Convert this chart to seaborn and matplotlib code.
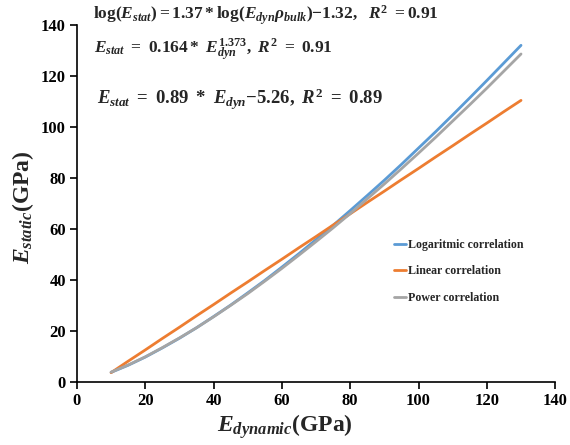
import matplotlib
matplotlib.use("Agg")
import matplotlib.pyplot as plt
import seaborn as sns
import pandas as pd

x_dyn = [10, 15, 20, 25, 30, 35, 40, 45, 50, 55, 60, 65, 70, 75, 80, 85, 90, 95,
         100, 105, 110, 115, 120, 125, 130]
log_corr = [3.7, 6.5, 9.7, 13.3, 17.1, 21.2, 25.6, 30.1, 34.9, 39.8, 45.0, 50.3,
            55.8, 61.4, 67.2, 73.1, 79.1, 85.3, 91.7, 98.1, 104.7, 111.4, 118.2,
            125.1, 132.0]
lin_corr = [3.6, 8.1, 12.5, 17.0, 21.4, 25.9, 30.3, 34.8, 39.2, 43.7, 48.1, 52.6,
            57.0, 61.5, 65.9, 70.4, 74.8, 79.3, 83.7, 88.2, 92.6, 97.1, 101.5,
            106.0, 110.4]
pow_corr = [3.8, 6.6, 9.8, 13.4, 17.2, 21.2, 25.5, 30.0, 34.6, 39.5, 44.5, 49.7,
            55.0, 60.4, 66.0, 71.8, 77.6, 83.6, 89.7, 95.9, 102.3, 108.7, 115.2,
            121.9, 128.6]
series_names = ["Logaritmic correlation", "Linear correlation", "Power correlation"]
colors = ["#5B9BD5", "#ED7D31", "#A5A5A5"]
x_ticks = [0, 20, 40, 60, 80, 100, 120, 140]
y_ticks = [0, 20, 40, 60, 80, 100, 120, 140]

sns.set_theme(style="white")
plt.rcParams["font.family"] = ["Liberation Serif", "DejaVu Serif"]
plt.rcParams["font.weight"] = "bold"
plt.rcParams["mathtext.fontset"] = "custom"
plt.rcParams["mathtext.rm"] = "Liberation Serif:bold"
plt.rcParams["mathtext.it"] = "Liberation Serif:italic:bold"
plt.rcParams["mathtext.bf"] = "Liberation Serif:bold"

rows = []
for name, vals in zip(series_names, [log_corr, lin_corr, pow_corr]):
    for xv, yv in zip(x_dyn, vals):
        rows.append({"x": xv, "y": yv, "series": name})
df = pd.DataFrame(rows)

fig = plt.figure(figsize=(5.7, 4.45), dpi=100)
ax = fig.add_axes([0.135, 0.142, 0.839, 0.802])
sns.lineplot(data=df, x="x", y="y", hue="series", hue_order=series_names,
             palette=colors, linewidth=2.0, ax=ax)

ax.set_xlim(0, 140)
ax.set_ylim(0, 140)
ax.set_xticks(x_ticks)
ax.set_yticks(y_ticks)
ax.tick_params(axis="both", which="both", direction="out", length=5, width=1.2,
               colors="black", labelsize=12, bottom=True, left=True, pad=3)
for lab in ax.get_xticklabels() + ax.get_yticklabels():
    lab.set_fontweight("bold")
for s in ["top", "right"]:
    ax.spines[s].set_visible(False)
for s in ["left", "bottom"]:
    ax.spines[s].set_color("black")
    ax.spines[s].set_linewidth(1.2)

ax.set_xlabel(r"$E_{dynamic}\mathrm{(GPa)}$", fontsize=17)
ax.set_ylabel(r"$E_{static}\mathrm{(GPa)}$", fontsize=17)
ax.xaxis.set_label_coords(0.435, -0.085)
ax.yaxis.set_label_coords(-0.085, 0.49)

leg = ax.legend(loc="upper left", bbox_to_anchor=(0.64, 0.43), frameon=False,
                handlelength=1.0, handletextpad=0.2, labelspacing=1.2,
                prop={"family": "Liberation Serif", "weight": "bold", "size": 8.6})

fig.text(0.163, 0.965,
         r"$\mathrm{log}(E_{stat})\mathrm{=1.37*log}(E_{dyn}\rho_{bulk})\mathrm{-1.32,\ \ }R^2\mathrm{\ =0.91}$",
         fontsize=12.5, va="center", ha="left")
fig.text(0.165, 0.887,
         r"$E_{stat}\ \mathrm{=\ 0.164*\ }E_{dyn}^{1.373}\mathrm{,\ }R^2\mathrm{\ =\ 0.91}$",
         fontsize=12.5, va="center", ha="left")
fig.text(0.17, 0.776,
         r"$E_{stat}\ \mathrm{=\ 0.89\ *\ }E_{dyn}\mathrm{-5.26,\ }R^2\mathrm{\ =\ 0.89}$",
         fontsize=13.5, va="center", ha="left")

fig.savefig("out.png", dpi=100)
